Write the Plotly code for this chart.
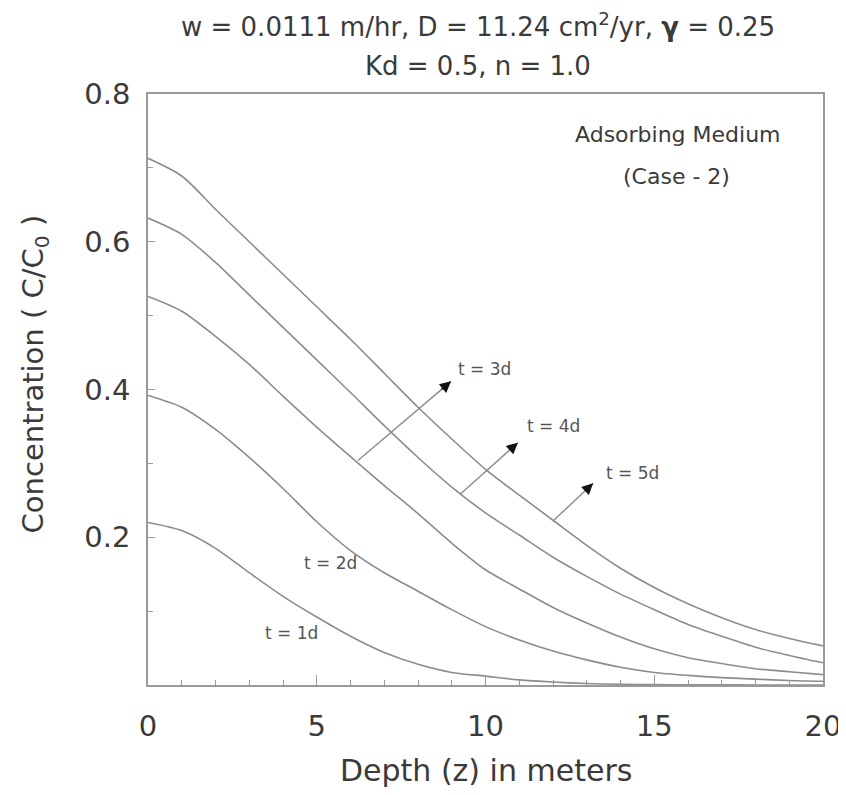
import plotly.graph_objects as go

# ---- data ----
depth_m = [0, 1, 2, 3, 4, 5, 6, 7, 8, 9, 10, 11, 12, 13, 14, 15, 16, 17, 18, 19, 20]

conc_t1 = [0.220, 0.209, 0.185, 0.152, 0.120, 0.092, 0.066, 0.044, 0.028, 0.017, 0.012,
           0.007, 0.004, 0.002, 0.001, 0.0005, 0.0003, 0.0002, 0.0001, 0.0001, 0.0001]
conc_t2 = [0.392, 0.376, 0.346, 0.308, 0.266, 0.221, 0.182, 0.152, 0.127, 0.102, 0.079,
           0.061, 0.046, 0.034, 0.024, 0.017, 0.013, 0.010, 0.008, 0.006, 0.005]
conc_t3 = [0.526, 0.506, 0.472, 0.434, 0.391, 0.349, 0.309, 0.270, 0.232, 0.192, 0.156,
           0.130, 0.105, 0.084, 0.065, 0.049, 0.037, 0.029, 0.022, 0.018, 0.014]
conc_t4 = [0.632, 0.610, 0.572, 0.528, 0.484, 0.440, 0.396, 0.351, 0.308, 0.268, 0.233,
           0.203, 0.173, 0.147, 0.123, 0.102, 0.082, 0.066, 0.051, 0.040, 0.030]
conc_t5 = [0.713, 0.689, 0.644, 0.600, 0.556, 0.512, 0.468, 0.422, 0.376, 0.333, 0.292,
           0.257, 0.223, 0.189, 0.158, 0.132, 0.110, 0.091, 0.075, 0.063, 0.053]

series_names = ["t = 1d", "t = 2d", "t = 3d", "t = 4d", "t = 5d"]
series_values = [conc_t1, conc_t2, conc_t3, conc_t4, conc_t5]

x_tick_vals = [0, 5, 10, 15, 20]
y_tick_vals = [0.2, 0.4, 0.6, 0.8]
y_tick_text = ["0.2", "0.4", "0.6", "0.8"]

title_line1 = "w = 0.0111 m/hr, D = 11.24 cm<sup>2</sup>/yr, <b>γ</b> = 0.25"
title_line2 = "Kd = 0.5, n = 1.0"
x_title = "Depth (z) in meters"
y_title = "Concentration ( C/C<sub>0</sub> )"

# plain labels for the 1d and 2d curves (data coords)
plain_labels = [("t = 2d", 5.42, 0.165), ("t = 1d", 4.24, 0.070)]
# arrow labels: text, label pos, arrow tail, arrow tip (data coords)
arrow_labels = [
    ("t = 3d", (9.96, 0.428), (6.22, 0.304), (8.98, 0.411)),
    ("t = 4d", (12.0, 0.350), (9.24, 0.258), (10.96, 0.328)),
    ("t = 5d", (14.37, 0.287), (12.0, 0.222), (13.19, 0.273)),
]

FONT = "DejaVu Sans"
TXT = "#3a3a3a"
LINE = "#8c8c8c"
AXIS = "#9a9a9a"

fig = go.Figure()
for name, vals in zip(series_names, series_values):
    fig.add_trace(go.Scatter(
        x=depth_m, y=vals, mode="lines", name=name,
        line=dict(color=LINE, width=1.6, shape="spline", smoothing=0.8),
        showlegend=False, hoverinfo="skip",
    ))

annotations = []
shapes = []
annotations.append(dict(text=title_line1, x=0.489, y=1.117, xref="paper", yref="paper",
                        showarrow=False, font=dict(family=FONT, size=26, color=TXT),
                        xanchor="center", yanchor="middle"))
annotations.append(dict(text=title_line2, x=0.489, y=1.047, xref="paper", yref="paper",
                        showarrow=False, font=dict(family=FONT, size=26, color=TXT),
                        xanchor="center", yanchor="middle"))
annotations.append(dict(text=x_title, x=0.5007, y=-0.144, xref="paper", yref="paper",
                        showarrow=False, font=dict(family=FONT, size=30, color=TXT),
                        xanchor="center", yanchor="middle"))
annotations.append(dict(text=y_title, x=-0.167, y=0.526, xref="paper", yref="paper",
                        showarrow=False, textangle=-90,
                        font=dict(family=FONT, size=29, color=TXT),
                        xanchor="center", yanchor="middle"))
annotations.append(dict(text="Adsorbing Medium", x=15.70, y=0.745, xref="x", yref="y",
                        showarrow=False, font=dict(family=FONT, size=22, color=TXT),
                        xanchor="center", yanchor="middle"))
annotations.append(dict(text="(Case - 2)", x=15.67, y=0.689, xref="x", yref="y",
                        showarrow=False, font=dict(family=FONT, size=22, color=TXT),
                        xanchor="center", yanchor="middle"))
for txt, lx, ly in plain_labels:
    annotations.append(dict(text=txt, x=lx, y=ly, xref="x", yref="y", showarrow=False,
                            font=dict(family=FONT, size=17, color="#555"),
                            xanchor="center", yanchor="middle"))
for txt, (lx, ly), (tx, ty), (hx, hy) in arrow_labels:
    annotations.append(dict(text=txt, x=lx, y=ly, xref="x", yref="y", showarrow=False,
                            font=dict(family=FONT, size=17, color="#555"),
                            xanchor="center", yanchor="middle"))
    # gray shaft
    shapes.append(dict(type="line", xref="x", yref="y", x0=tx, y0=ty, x1=hx, y1=hy,
                       line=dict(color=LINE, width=1.4)))
    # black head
    fx = hx - (hx - tx) * 0.12
    fy = hy - (hy - ty) * 0.12
    annotations.append(dict(text="", x=hx, y=hy, ax=fx, ay=fy, xref="x", yref="y",
                            axref="x", ayref="y", showarrow=True, arrowhead=2,
                            arrowsize=1.6, arrowwidth=1.4, arrowcolor="#111"))

# the page body adds an 8px offset, so the figure is 8px smaller and margins shifted
fig.update_layout(
    width=838, height=787, autosize=False,
    margin=dict(l=140, r=23, t=86, b=110),
    paper_bgcolor="white", plot_bgcolor="white",
    annotations=annotations, shapes=shapes,
    xaxis=dict(range=[0, 20], tickvals=x_tick_vals, ticks="inside", ticklen=10,
               tickwidth=1.2, tickcolor=AXIS, showline=True, linecolor=AXIS,
               linewidth=1.6, mirror=True, showgrid=False, zeroline=False,
               ticklabelstandoff=14, automargin=False,
               tickfont=dict(family=FONT, size=29, color=TXT),
               minor=dict(dtick=1, ticks="inside", ticklen=5, tickcolor=AXIS,
                          tickwidth=1, showgrid=False)),
    yaxis=dict(range=[0, 0.8], tickvals=y_tick_vals, ticktext=y_tick_text,
               ticks="inside", ticklen=7, tickwidth=1.2, tickcolor=AXIS,
               showline=True, linecolor=AXIS, linewidth=1.6, mirror=True,
               showgrid=False, zeroline=False, ticklabelstandoff=10, automargin=False,
               tickfont=dict(family=FONT, size=29, color=TXT),
               minor=dict(dtick=0.1, tick0=0, ticks="inside", ticklen=5,
                          tickcolor=AXIS, tickwidth=1, showgrid=False)),
)

fig.write_html("out.html")
